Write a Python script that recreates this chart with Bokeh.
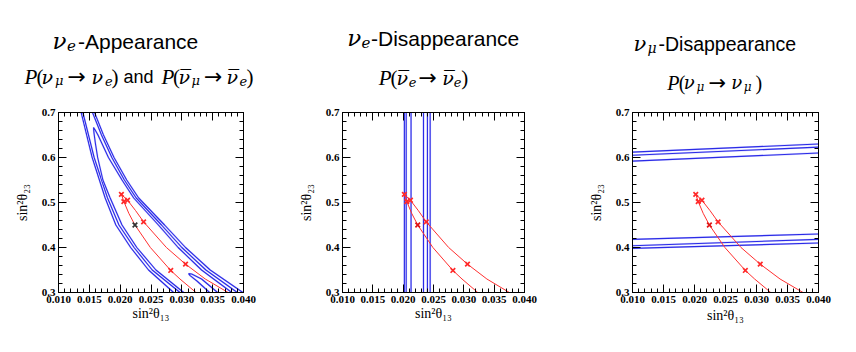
from bokeh.plotting import figure
from bokeh.models import Range1d, LinearAxis, FixedTicker, CustomJSTickFormatter, ColumnDataSource
from bokeh.layouts import row, column
from bokeh.core.properties import value
from bokeh.embed import file_html
from bokeh.resources import INLINE

# ---------------- data ----------------
X_MIN, X_MAX = 0.010, 0.040
Y_MIN, Y_MAX = 0.3, 0.7
XTICKS = [0.010, 0.015, 0.020, 0.025, 0.030, 0.035, 0.040]
XTICK_LABELS = ["0.010", "0.015", "0.020", "0.025", "0.030", "0.035", "0.040"]
YTICKS = [0.3, 0.4, 0.5, 0.6, 0.7]
YTICK_LABELS = ["0.3", "0.4", "0.5", "0.6", "0.7"]
X_MINOR_STEP = 0.001
Y_MINOR_STEP = 0.02

# red trajectories (same in all panels)
RED_LOW_X = [0.0202, 0.0206, 0.0214, 0.0224, 0.0249, 0.0282, 0.0297, 0.0323]
RED_LOW_Y = [0.518, 0.502, 0.476, 0.450, 0.400, 0.349, 0.330, 0.300]
RED_UP_X = [0.0202, 0.0212, 0.0225, 0.0238, 0.0275, 0.0306, 0.0338, 0.0375]
RED_UP_Y = [0.518, 0.505, 0.482, 0.457, 0.400, 0.363, 0.330, 0.300]
MARK_X = [0.0202, 0.0206, 0.0212, 0.0224, 0.0238, 0.0282, 0.0306]
MARK_Y = [0.518, 0.502, 0.505, 0.450, 0.457, 0.349, 0.363]
MARK_COL_APP = ["#ff2a2a", "#ff2a2a", "#ff2a2a", "#333333", "#ff2a2a", "#ff2a2a", "#ff2a2a"]
MARK_COL_OTHER = ["#ff2a2a", "#ff2a2a", "#ff2a2a", "#e01515", "#ff2a2a", "#ff2a2a", "#ff2a2a"]

# nu_e appearance contours
APP_L1_X = [0.01368, 0.01546, 0.01757, 0.01930, 0.02170, 0.02460, 0.02867]
APP_L1_Y = [0.70, 0.60, 0.51, 0.45, 0.40, 0.35, 0.30]
APP_L2_X = [0.01395, 0.01578, 0.01795, 0.01980, 0.02225, 0.02520, 0.02970]
APP_L2_Y = [0.70, 0.60, 0.51, 0.45, 0.40, 0.35, 0.30]
APP_R1_X = [0.01584, 0.01729, 0.01900, 0.02106, 0.02300, 0.02720, 0.03060, 0.03460, 0.03990]
APP_R1_Y = [0.70, 0.65, 0.60, 0.55, 0.51, 0.45, 0.40, 0.35, 0.30]
APP_R2_X = [0.01551, 0.01697, 0.01865, 0.02068, 0.02260, 0.02670, 0.03000, 0.03390, 0.03900]
APP_R2_Y = [0.70, 0.65, 0.60, 0.55, 0.51, 0.45, 0.40, 0.35, 0.30]
APP_IN_X = [0.0303, 0.0258, 0.0227, 0.0203, 0.01838, 0.0172, 0.01635, 0.0160, 0.01575, 0.01568,
            0.0159, 0.0164, 0.0181, 0.0203, 0.0222, 0.0262, 0.0294, 0.0332, 0.0381]
APP_IN_Y = [0.30, 0.35, 0.40, 0.45, 0.51, 0.55, 0.60, 0.63, 0.655, 0.6667,
            0.662, 0.65, 0.60, 0.55, 0.51, 0.45, 0.40, 0.35, 0.30]
APP_ISL_X = [0.0345, 0.0325, 0.0313, 0.0311, 0.0316, 0.0332, 0.0358]
APP_ISL_Y = [0.300, 0.325, 0.338, 0.342, 0.341, 0.330, 0.300]

# nu_e disappearance: vertical bands
DIS_E_X = [0.0202, 0.0205, 0.0213, 0.02335, 0.0240, 0.02445]

# nu_mu disappearance: nearly horizontal bands (value at left / right edge)
DIS_MU_Y_LEFT = [0.612, 0.605, 0.592, 0.418, 0.404, 0.398]
DIS_MU_Y_RIGHT = [0.630, 0.623, 0.610, 0.430, 0.418, 0.410]

BLUE = "#2b2be6"
BLUE_HALO = "#d2d2ff"
RED = "#ff3030"
SERIF = "Liberation Serif"
GREEK = "DejaVu Serif"
SANS = "Liberation Sans"
ARROW = "DejaVu Sans"
PAGE_W = 856
TITLE_H = 95


def minor(start, stop, step):
    n = int(round((stop - start) / step))
    return [start + i * step for i in range(n + 1)]


def style_axis(ax, ticks, labels, mticks, show_labels):
    ax.ticker = FixedTicker(ticks=ticks, minor_ticks=mticks)
    if show_labels:
        ax.major_label_overrides = {t: l for t, l in zip(ticks, labels)}
    else:
        ax.formatter = CustomJSTickFormatter(code="return ''")
    ax.major_tick_in = 8
    ax.major_tick_out = 0
    ax.minor_tick_in = 4
    ax.minor_tick_out = 0
    ax.major_tick_line_color = "black"
    ax.minor_tick_line_color = "black"
    ax.axis_line_color = "black"
    ax.major_label_text_font = SERIF
    ax.major_label_text_font_style = "bold"
    ax.major_label_text_font_size = "11px"
    ax.major_label_text_color = "black"
    ax.major_label_standoff = 3
    ax.axis_label_text_font = SERIF
    ax.axis_label_text_font_style = "normal"
    ax.axis_label_text_font_size = "14px"
    ax.axis_label_text_color = "black"


def make_fig(width, height, bl, br, bt, bb, xl_stand, yl_stand):
    p = figure(width=width, height=height, x_range=Range1d(X_MIN, X_MAX), y_range=Range1d(Y_MIN, Y_MAX),
               output_backend="svg", toolbar_location=None,
               min_border_left=bl, min_border_right=br, min_border_top=bt, min_border_bottom=bb,
               x_axis_label="sin²θ₁₃", y_axis_label="sin²θ₂₃")
    p.grid.visible = False
    p.outline_line_color = "black"
    p.outline_line_width = 1
    p.background_fill_color = "white"
    p.border_fill_color = "white"
    xm = minor(X_MIN, X_MAX, X_MINOR_STEP)
    ym = minor(Y_MIN, Y_MAX, Y_MINOR_STEP)
    style_axis(p.xaxis[0], XTICKS, XTICK_LABELS, xm, True)
    style_axis(p.yaxis[0], YTICKS, YTICK_LABELS, ym, True)
    p.xaxis[0].axis_label_standoff = xl_stand
    p.yaxis[0].axis_label_standoff = yl_stand
    top = LinearAxis()
    style_axis(top, XTICKS, XTICK_LABELS, xm, False)
    p.add_layout(top, "above")
    right = LinearAxis()
    style_axis(right, YTICKS, YTICK_LABELS, ym, False)
    p.add_layout(right, "right")
    return p


def blue_line(p, xs, ys):
    p.line(xs, ys, line_color=BLUE_HALO, line_width=1.9)
    p.line(xs, ys, line_color=BLUE, line_width=1.1)


def red_part(p, cols):
    p.line(RED_LOW_X, RED_LOW_Y, line_color=RED, line_width=1)
    p.line(RED_UP_X, RED_UP_Y, line_color=RED, line_width=1)
    src = ColumnDataSource(dict(x=MARK_X, y=MARK_Y, c=cols))
    p.scatter("x", "y", source=src, marker="x", size=6.5, line_color="c", line_width=1.7)


# ---------------- title strip (page coordinates) ----------------
t = figure(width=PAGE_W, height=TITLE_H, x_range=Range1d(0, PAGE_W), y_range=Range1d(TITLE_H, 0),
           output_backend="svg", toolbar_location=None, x_axis_location=None, y_axis_location=None,
           min_border=0)
t.grid.visible = False
t.outline_line_color = None
t.background_fill_color = "white"
t.border_fill_color = "white"
I, N = "italic", "normal"
TITLE_ITEMS = [
    # panel 1
    ("ν", 52, 40.5, 23, GREEK, I), ("e", 66.5, 45, 15, GREEK, I),
    ("-Appearance", 77.5, 40.5, 21, SANS, N),
    ("P", 24, 76, 21, SERIF, I), ("(", 36, 76, 21, SERIF, N),
    ("ν", 41, 76, 19, GREEK, I), ("μ", 54.5, 80, 13, GREEK, I),
    ("→", 67, 76, 22, ARROW, N), ("ν", 91, 76, 19, GREEK, I),
    ("e", 104.5, 80, 13, GREEK, I), (")", 111, 76, 21, SERIF, N),
    ("and", 123, 76, 18, SANS, N),
    ("P", 161, 76, 21, SERIF, I), ("(", 172.5, 76, 21, SERIF, N),
    ("ν", 178, 76, 19, GREEK, I), ("¯", 180, 77, 21, SERIF, N), ("μ", 191, 80, 13, GREEK, I),
    ("→", 203.5, 76, 22, ARROW, N), ("ν", 226, 76, 19, GREEK, I), ("¯", 228, 77, 21, SERIF, N),
    ("e", 239, 80, 13, GREEK, I), (")", 246, 76, 21, SERIF, N),
    # panel 2
    ("ν", 346.7, 37.7, 23, GREEK, I), ("e", 361, 42, 15, GREEK, I),
    ("-Disappearance", 370.5, 37.7, 21, SANS, N),
    ("P", 378.3, 77, 21, SERIF, I), ("(", 390, 77, 21, SERIF, N),
    ("ν", 396, 77, 19, GREEK, I), ("¯", 398, 78, 21, SERIF, N), ("e", 408.3, 81, 13, GREEK, I),
    ("→", 418, 77, 22, ARROW, N), ("ν", 441.7, 77, 19, GREEK, I), ("¯", 443.7, 78, 21, SERIF, N),
    ("e", 453.3, 81, 13, GREEK, I), (")", 460.7, 77, 21, SERIF, N),
    # panel 3
    ("ν", 633, 43, 21, GREEK, I), ("μ", 647, 47.5, 14, GREEK, I),
    ("-Disappearance", 658, 43, 19.5, SANS, N),
    ("P", 666.7, 82, 20, SERIF, I), ("(", 678.3, 82, 20, SERIF, N),
    ("ν", 683.3, 82, 18, GREEK, I), ("μ", 696, 86, 12, GREEK, I),
    ("→", 708, 82, 21, ARROW, N), ("ν", 730.7, 82, 18, GREEK, I),
    ("μ", 743.3, 86, 12, GREEK, I), (")", 755, 82, 20, SERIF, N),
]
for text, px, py, size, font, style in TITLE_ITEMS:
    t.text(x=[px], y=[py], text=[text], text_font=value(font), text_font_size=value(f"{size}px"),
           text_font_style=style, text_align="left", text_baseline="alphabetic", text_color="black")

# ---------------- panels ----------------
W1, W2, W3 = 292, 290, 274
H = 352 - TITLE_H
p1 = make_fig(W1, H, 58, 49, 107 - TITLE_H, H - (107 - TITLE_H) - 185, 0, 9)
for xs, ys in [(APP_L1_X, APP_L1_Y), (APP_L2_X, APP_L2_Y), (APP_R1_X, APP_R1_Y),
               (APP_R2_X, APP_R2_Y), (APP_IN_X, APP_IN_Y), (APP_ISL_X, APP_ISL_Y)]:
    blue_line(p1, xs, ys)
red_part(p1, MARK_COL_APP)

p2 = make_fig(W2, H, 50, 58, 112 - TITLE_H, H - (112 - TITLE_H) - 184, 0, 9)
ne = len(DIS_E_X)
p2.segment(x0=DIS_E_X, y0=[Y_MIN] * ne, x1=DIS_E_X, y1=[Y_MAX] * ne, line_color=BLUE_HALO, line_width=1.9)
p2.segment(x0=DIS_E_X, y0=[Y_MIN] * ne, x1=DIS_E_X, y1=[Y_MAX] * ne, line_color=BLUE, line_width=1.1)
red_part(p2, MARK_COL_OTHER)

p3 = make_fig(W3, H, 50, 38, 111 - TITLE_H, H - (111 - TITLE_H) - 187, 2, 9)
nm = len(DIS_MU_Y_LEFT)
p3.segment(x0=[X_MIN] * nm, y0=DIS_MU_Y_LEFT, x1=[X_MAX] * nm, y1=DIS_MU_Y_RIGHT,
           line_color=BLUE_HALO, line_width=1.9)
p3.segment(x0=[X_MIN] * nm, y0=DIS_MU_Y_LEFT, x1=[X_MAX] * nm, y1=DIS_MU_Y_RIGHT,
           line_color=BLUE, line_width=1.1)
red_part(p3, MARK_COL_OTHER)

layout = column(t, row(p1, p2, p3))
open("out.html", "w").write(file_html(layout, INLINE))
